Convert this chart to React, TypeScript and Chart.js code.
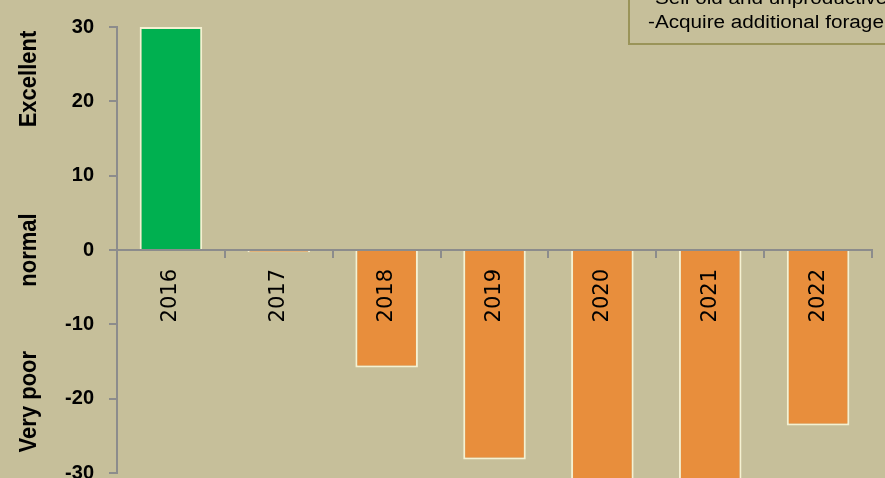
import React, { useEffect, useRef } from "react";
import { Chart, registerables } from "chart.js";

Chart.register(...registerables);

const categories = ["2016", "2017", "2018", "2019", "2020", "2021", "2022"];
const values = [30, -0.3, -15.8, -28.2, -33, -33, -23.6];
const yTicks = [-30, -20, -10, 0, 10, 20, 30];
const sideLabels = ["Excellent", "normal", "Very poor"];
const sideLabelValues = [23, 0, -20.4];
const noteLines = ["-Sell old and unproductive animals", "-Acquire additional forage"];

const BG = "#C6BF9A";
const AXIS = "#8C8C8C";
const GREEN = "#00B050";
const ORANGE = "#E88E3C";
const BAR_BORDER = "#F4F1D2";

export default function App() {
  const ref = useRef<HTMLCanvasElement | null>(null);

  useEffect(() => {
    if (!ref.current) return;

    const bgPlugin = {
      id: "bg",
      beforeDraw(chart: any) {
        const ctx = chart.ctx;
        ctx.save();
        ctx.fillStyle = BG;
        ctx.fillRect(0, 0, chart.width, chart.height);
        ctx.restore();
      },
    };

    const extrasPlugin = {
      id: "extras",
      afterDraw(chart: any) {
        const ctx = chart.ctx;
        const yScale = chart.scales.y;
        ctx.save();
        // side labels
        ctx.fillStyle = "#000";
        ctx.font = "bold 22px 'Liberation Sans', Arial, sans-serif";
        ctx.textAlign = "center";
        ctx.textBaseline = "alphabetic";
        sideLabels.forEach((t, i) => {
          const y = yScale.getPixelForValue(sideLabelValues[i]);
          ctx.save();
          ctx.translate(36, y);
          ctx.rotate(-Math.PI / 2);
          ctx.scale(1, 1.1);
          ctx.fillText(t, 0, 0);
          ctx.restore();
        });
        // note box
        ctx.fillStyle = BG;
        ctx.fillRect(629, -10, 300, 54);
        ctx.strokeStyle = "#9A9459";
        ctx.lineWidth = 2;
        ctx.strokeRect(629, -10, 300, 54);
        ctx.fillStyle = "#000";
        ctx.font = "18px 'Liberation Sans', Arial, sans-serif";
        ctx.textAlign = "left";
        noteLines.forEach((t, i) => {
          ctx.save();
          ctx.translate(648, 4 + i * 24);
          ctx.scale(1.15, 1);
          ctx.fillText(t, 0, 0);
          ctx.restore();
        });
        ctx.restore();
      },
    };

    const chart = new Chart(ref.current, {
      type: "bar",
      data: {
        labels: categories,
        datasets: [
          {
            data: values,
            backgroundColor: values.map((v) => (v >= 0 ? GREEN : ORANGE)),
            borderColor: BAR_BORDER,
            borderWidth: 2,
            barPercentage: 0.58,
            categoryPercentage: 1,
            clip: false as any,
          },
        ],
      },
      options: {
        responsive: false,
        animation: false,
        devicePixelRatio: 1,
        layout: { padding: { left: 0, top: 27, right: 13, bottom: 25 } },
        plugins: { legend: { display: false }, tooltip: { enabled: false } },
        scales: {
          x: {
            position: { y: 0 } as any,
            ticks: {
              z: 1,
              minRotation: 90,
              maxRotation: 90,
              autoSkip: false,
              padding: 12,
              color: "#000",
              font: { family: "'DejaVu Sans'", size: 21 },
            },
            grid: {
              drawOnChartArea: false,
              drawTicks: true,
              tickLength: 7,
              color: AXIS,
              lineWidth: 2,
              offset: true,
              z: 1,
            },
            border: { color: AXIS, width: 2, z: 1 },
          },
          y: {
            min: -30,
            max: 30,
            afterBuildTicks: (s: any) => {
              s.ticks = yTicks.map((v) => ({ value: v }));
            },
            afterFit: (s: any) => {
              s.width = 117;
            },
            ticks: {
              padding: 15,
              color: "#000",
              font: { family: "'Liberation Sans', Arial", size: 20, weight: "bold" },
            },
            grid: {
              drawOnChartArea: false,
              drawTicks: true,
              tickLength: 8,
              color: AXIS,
              lineWidth: 2,
            },
            border: { color: AXIS, width: 2 },
          },
        },
      },
      plugins: [bgPlugin, extrasPlugin],
    });
    return () => chart.destroy();
  }, []);

  return (
    <div style={{ position: "absolute", left: 0, top: 0, width: 885, height: 500 }}>
      <canvas ref={ref} width={885} height={500} style={{ display: "block", width: 885, height: 500 }} />
    </div>
  );
}
